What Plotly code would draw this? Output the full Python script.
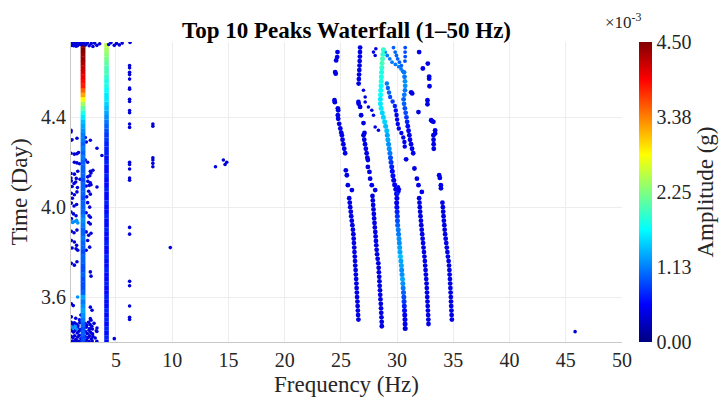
import plotly.graph_objects as go

# ---------------------------------------------------------------------------
# Peak-tracking data: frequency (Hz), time (day), amplitude (x1e-3 g)
# ---------------------------------------------------------------------------

# Sampling days of the two persistent low-frequency peaks
line_days = [3.40, 3.42, 3.44, 3.46, 3.48, 3.50, 3.52, 3.54, 3.56, 3.58,
             3.60, 3.62, 3.64, 3.66, 3.68, 3.70, 3.72, 3.74, 3.76, 3.78,
             3.80, 3.82, 3.84, 3.86, 3.88, 3.90, 3.92, 3.94, 3.96, 3.98,
             4.00, 4.02, 4.04, 4.06, 4.08, 4.10, 4.12, 4.14, 4.16, 4.18,
             4.20, 4.22, 4.24, 4.26, 4.28, 4.30, 4.32, 4.34, 4.36, 4.38,
             4.40, 4.42, 4.44, 4.46, 4.48, 4.50, 4.52, 4.54, 4.56, 4.58,
             4.60, 4.62, 4.64, 4.66, 4.68, 4.70, 4.72]

# ~2 Hz peak
mode1_freq = 2.07
mode1_amp = [0.9, 0.9, 1.0, 0.9, 1.0, 1.1, 1.2, 1.3, 1.2, 1.1,
             1.3, 1.0, 0.9, 0.9, 0.9, 1.0, 0.9, 0.9, 1.0, 1.0,
             0.9, 1.0, 1.0, 1.1, 1.0, 1.0, 1.1, 1.2, 1.1, 1.0,
             1.0, 1.0, 0.9, 1.0, 1.0, 1.0, 0.9, 1.0, 1.0, 1.0,
             1.0, 1.1, 1.0, 1.1, 1.0, 1.1, 1.1, 1.2, 1.3, 1.4,
             1.6, 1.8, 2.1, 2.4, 2.8, 3.2, 3.5, 3.8, 3.9, 4.0,
             4.1, 4.2, 4.3, 4.4, 4.4, 4.5, 4.5]

# ~4 Hz peak
mode2_freq = 4.16
mode2_amp = [0.6, 0.7, 0.6, 0.7, 0.6, 0.7, 0.6, 0.7, 0.6, 0.6,
             0.7, 0.6, 0.6, 0.7, 0.6, 0.6, 0.7, 0.6, 0.6, 0.7,
             0.6, 0.6, 0.7, 0.6, 0.6, 0.7, 0.6, 0.6, 0.7, 0.6,
             0.6, 0.7, 0.6, 0.6, 0.7, 0.6, 0.6, 0.7, 0.6, 0.6,
             0.7, 0.6, 0.7, 0.7, 0.7, 0.8, 0.8, 0.9, 1.0, 1.1,
             1.2, 1.3, 1.4, 1.5, 1.6, 1.6, 1.7, 1.8, 1.8, 1.9,
             2.0, 2.0, 2.1, 2.2, 2.3, 2.4, 2.5]

# Drifting peak near 25-26.5 Hz
track_a_day = [4.690, 4.668, 4.653, 4.601, 4.594, 4.476, 4.467, 4.440, 4.431,
               4.409, 4.393, 4.371, 4.350, 4.332, 4.320, 4.300, 4.280, 4.260,
               4.240, 4.164, 4.142, 4.098, 4.076,
               4.04, 4.02, 4.00, 3.98, 3.96, 3.94, 3.92, 3.90, 3.88, 3.86,
               3.84, 3.82, 3.80, 3.78, 3.76, 3.74, 3.72, 3.70, 3.68, 3.66,
               3.64, 3.62, 3.60, 3.58, 3.56, 3.54, 3.52, 3.50]
track_a_freq = [24.70, 24.67, 24.58, 24.49, 24.54, 24.43, 24.46, 24.73, 24.76,
                24.73, 24.76, 24.85, 24.95, 25.03, 25.09, 25.15, 25.22, 25.30,
                25.38, 25.44, 25.53, 25.62, 25.98,
                25.74, 25.79, 25.83, 25.88, 25.92, 25.97, 26.02, 26.07, 26.11, 26.14,
                26.16, 26.19, 26.21, 26.24, 26.26, 26.28, 26.31, 26.33, 26.36, 26.38,
                26.40, 26.42, 26.44, 26.47, 26.49, 26.51, 26.53, 26.56]
track_a_amp = 0.45

# Drifting peak near 26.7-28.6 Hz
track_b_day = [4.71, 4.69, 4.67, 4.65, 4.63, 4.61, 4.59, 4.57, 4.55,
               4.468, 4.460, 4.446, 4.409, 4.374, 4.330,
               4.32, 4.30, 4.28, 4.26, 4.24, 4.22, 4.21,
               4.179, 4.157, 4.127, 4.098, 4.076,
               4.05, 4.03, 4.01, 3.99, 3.97, 3.95, 3.93, 3.91, 3.89, 3.87,
               3.85, 3.83, 3.81, 3.79, 3.77, 3.75, 3.73, 3.71, 3.69, 3.67,
               3.65, 3.63, 3.61, 3.59, 3.57, 3.55, 3.53, 3.51, 3.49, 3.47]
track_b_freq = [26.71, 26.70, 26.69, 26.67, 26.66, 26.64, 26.62, 26.60, 26.58,
                26.56, 26.58, 26.71, 26.80, 27.01, 27.10,
                27.01, 27.08, 27.15, 27.22, 27.29, 27.35, 27.40,
                27.40, 27.54, 27.60, 27.75, 28.05,
                27.81, 27.84, 27.87, 27.90, 27.93, 27.96, 27.99, 28.02, 28.06, 28.09,
                28.12, 28.15, 28.18, 28.22, 28.27, 28.33, 28.36, 28.38, 28.41, 28.43,
                28.45, 28.48, 28.50, 28.52, 28.55, 28.57, 28.59, 28.61, 28.63, 28.64]
track_b_amp = 0.45

# Stray detections around the 27-28 Hz peak
stray_b_freq = [27.01, 27.16, 27.16, 27.45, 27.75, 27.90, 28.05, 28.34, 27.90, 28.11, 28.05]
stray_b_day = [4.520, 4.490, 4.468, 4.446, 4.431, 4.409, 4.357, 4.342, 4.690, 4.705, 4.675]

# Strongest drifting peak near 28.8-30.7 Hz
track_c_day = [4.70, 4.68, 4.66, 4.64, 4.62, 4.60, 4.58, 4.56, 4.54, 4.52,
               4.50, 4.48, 4.46, 4.44, 4.42, 4.40, 4.38, 4.36, 4.34, 4.32,
               4.30, 4.28, 4.26, 4.24, 4.22, 4.20, 4.18, 4.16, 4.14, 4.12,
               4.10, 4.08, 4.06, 4.04, 4.02, 4.00, 3.98, 3.96, 3.94, 3.92,
               3.90, 3.88, 3.86, 3.84, 3.82, 3.80, 3.78, 3.76, 3.74, 3.72,
               3.70, 3.68, 3.66, 3.64, 3.62, 3.60, 3.58, 3.56, 3.54, 3.52,
               3.50, 3.48, 3.46]
track_c_freq = [28.78, 28.74, 28.70, 28.66, 28.64, 28.62, 28.60, 28.59, 28.57, 28.55,
                28.53, 28.51, 28.52, 28.58, 28.68, 28.78, 28.89, 28.98, 29.08, 29.13,
                29.18, 29.24, 29.30, 29.36, 29.41, 29.46, 29.52, 29.57, 29.63, 29.70,
                29.78, 29.88, 29.95, 29.98, 29.96, 29.98, 30.00, 30.02, 30.03, 30.05,
                30.10, 30.13, 30.17, 30.20, 30.23, 30.26, 30.30, 30.34, 30.38, 30.41,
                30.44, 30.48, 30.51, 30.54, 30.57, 30.60, 30.62, 30.64, 30.66, 30.68,
                30.70, 30.71, 30.72]
track_c_amp = [1.9, 1.9, 2.0, 2.0, 1.9, 1.8, 1.8, 1.8, 1.7, 1.7,
               1.7, 1.6, 1.6, 1.6, 1.5, 1.5, 1.5, 1.4, 1.4, 1.3,
               1.3, 1.2, 1.2, 1.1, 0.9, 0.8, 0.7, 0.6, 0.6, 0.5,
               0.5, 0.5, 0.5, 0.5, 0.5, 0.6, 0.7, 0.8, 0.9, 1.0,
               1.1, 1.1, 1.2, 1.2, 1.3, 1.3, 1.4, 1.3, 1.3, 1.2,
               1.2, 1.3, 1.2, 1.1, 1.0, 0.9, 0.8, 0.7, 0.6, 0.5,
               0.5, 0.5, 0.4]
wiggle_c_freq = [30.10, 30.14, 30.05, 30.18]
wiggle_c_day = [4.09, 4.07, 4.06, 4.08]
wiggle_c_amp = [0.6, 0.5, 0.7, 0.5]

# Branches splitting off the 29 Hz peak near the top of the record
branch1_day = [4.69, 4.675, 4.66, 4.645, 4.635, 4.625, 4.615, 4.605]
branch1_freq = [28.94, 29.12, 29.35, 29.55, 29.85, 30.15, 30.35, 30.50]
branch1_amp = 1.1
branch2_day = [4.71, 4.69, 4.675, 4.66, 4.645, 4.63]
branch2_freq = [29.68, 29.83, 29.94, 30.05, 30.21, 30.38]
branch2_amp = 1.0
branch3_day = [4.71, 4.69, 4.67, 4.65]
branch3_freq = [30.72, 30.71, 30.72, 30.70]
branch3_amp = 0.9
branch4_day = [4.55, 4.53, 4.51, 4.49, 4.47, 4.45, 4.43, 4.41, 4.39, 4.37,
               4.35, 4.33, 4.31, 4.29, 4.27]
branch4_freq = [29.09, 29.18, 29.28, 29.38, 29.60, 29.80, 29.88, 29.95, 30.00, 30.06,
                30.15, 30.38, 30.55, 30.65, 30.68]
branch4_amp = [1.1, 1.0, 1.0, 0.9, 0.8, 0.7, 0.6, 0.5, 0.5, 0.5,
               0.5, 0.5, 0.5, 0.5, 0.5]

# Drifting peak near 30.6-32.8 Hz
track_d_day = [4.60, 4.58, 4.56, 4.54, 4.52, 4.50, 4.48, 4.46, 4.44, 4.42,
               4.40, 4.38, 4.36, 4.34, 4.32, 4.30, 4.28, 4.26, 4.24,
               4.213, 4.172, 4.127, 4.098, 4.068,
               4.04, 4.02, 4.00, 3.98, 3.96, 3.94, 3.92, 3.90, 3.88, 3.86,
               3.84, 3.82, 3.80, 3.78, 3.76, 3.74, 3.72, 3.70, 3.68, 3.66,
               3.64, 3.62, 3.60, 3.58, 3.56, 3.54, 3.52, 3.50, 3.48]
track_d_freq = [30.62, 30.66, 30.70, 30.72, 30.70, 30.64, 30.58, 30.62, 30.69, 30.76,
                30.83, 30.89, 30.95, 31.02, 31.09, 31.15, 31.24, 31.33, 31.43,
                30.80, 31.54, 31.76, 31.90, 32.20,
                31.96, 31.99, 32.02, 32.05, 32.08, 32.12, 32.15, 32.19, 32.23, 32.27,
                32.31, 32.35, 32.39, 32.43, 32.47, 32.50, 32.53, 32.56, 32.59, 32.62,
                32.64, 32.66, 32.68, 32.70, 32.72, 32.74, 32.76, 32.78, 32.79]
track_d_amp = [1.1, 1.1, 1.2, 1.2, 1.1, 1.1, 1.0, 1.0, 0.9, 0.9,
               0.8, 0.7, 0.6, 0.5, 0.5, 0.5, 0.5, 0.5, 0.5,
               0.45, 0.45, 0.45, 0.45, 0.45,
               0.45, 0.45, 0.45, 0.45, 0.45, 0.45, 0.45, 0.45, 0.45, 0.45,
               0.45, 0.45, 0.45, 0.45, 0.45, 0.45, 0.45, 0.45, 0.45, 0.45,
               0.45, 0.45, 0.45, 0.45, 0.45, 0.45, 0.45, 0.45, 0.45]

# Drifting peak near 32-34.9 Hz
track_e_day = [4.690, 4.639, 4.617, 4.581, 4.572, 4.538, 4.511, 4.506, 4.476, 4.458,
               4.423, 4.387, 4.380, 4.383, 4.342, 4.328,
               4.32, 4.30, 4.28, 4.26,
               4.142, 4.130, 4.098, 4.084,
               4.02, 4.00, 3.98, 3.96, 3.94, 3.92, 3.90, 3.88, 3.86, 3.84,
               3.82, 3.80, 3.78, 3.76, 3.74, 3.72, 3.70, 3.68, 3.66, 3.64,
               3.62, 3.60, 3.58, 3.56, 3.54, 3.52, 3.50]
track_e_freq = [31.96, 32.73, 32.29, 32.85, 32.85, 32.88, 31.25, 31.34, 32.70, 32.70,
                31.90, 33.03, 33.23, 33.10, 33.38, 33.38,
                33.23, 33.24, 33.25, 33.26,
                33.74, 33.80, 33.89, 33.90,
                34.03, 34.07, 34.10, 34.13, 34.16, 34.20, 34.23, 34.27, 34.32, 34.37,
                34.42, 34.47, 34.52, 34.58, 34.62, 34.65, 34.67, 34.70, 34.72, 34.74,
                34.76, 34.78, 34.79, 34.81, 34.83, 34.85, 34.87]
track_e_amp = 0.45

# Scattered low-band detections (1-4 Hz)
low_freq = [1.00, 1.00, 1.00, 1.09, 1.53, 2.27, 2.36, 2.72, 3.31,
            1.00, 1.30, 1.53, 1.67,
            1.30, 1.53, 1.76, 2.27, 2.48,
            2.72, 2.78, 1.00, 1.30, 1.60, 2.95,
            1.00, 1.47, 1.80, 2.48, 2.67, 3.75,
            1.03, 1.27, 1.42, 1.10, 1.57, 2.50, 2.72, 2.62, 2.35, 2.78, 3.31,
            1.03, 1.30, 1.53, 1.12, 2.57, 2.72, 2.40,
            1.03, 1.27, 1.50, 2.48, 2.66,
            1.00, 1.22, 1.45, 1.05, 2.35, 2.60, 2.72,
            2.57, 2.72,
            1.03, 1.27, 1.53, 2.35, 2.57, 2.78,
            1.03, 1.30, 1.10, 1.50, 2.48, 2.66, 2.35, 1.45, 1.60,
            1.03, 1.30, 1.53, 2.72, 2.78,
            1.03, 1.20, 2.72, 2.87,
            1.03, 1.42, 1.88, 1.75, 2.72, 2.78, 3.31, 3.25,
            1.02, 1.15, 1.30, 1.48, 1.62, 1.78, 2.25, 2.40, 2.55, 2.70, 2.85, 3.05,
            1.05, 1.22, 1.38, 1.55, 1.70, 1.85, 2.28, 2.45, 2.60, 2.75, 2.92, 3.30,
            1.02, 1.18, 1.32, 1.45, 1.60, 1.75, 1.88, 2.25, 2.38, 2.52, 2.65, 2.80, 2.95, 3.15,
            1.08, 1.25, 1.40, 1.65, 1.80, 2.30, 2.60, 2.88, 3.30,
            1.10, 1.60, 2.35, 2.65, 2.90]
low_day = [4.342, 4.335, 4.298, 4.300, 4.307, 4.310, 4.290, 4.298, 4.262,
           4.240, 4.236, 4.238, 4.243,
           4.200, 4.197, 4.193, 4.210, 4.200,
           4.160, 4.152, 4.150, 4.147, 4.160, 4.164,
           4.130, 4.128, 4.124, 4.135, 4.140, 4.230,
           4.117, 4.105, 4.112, 4.092, 4.087, 4.115, 4.108, 4.097, 4.094, 4.100, 4.090,
           4.062, 4.055, 4.068, 4.040, 4.071, 4.058, 4.046,
           4.018, 4.005, 4.012, 4.020, 4.000,
           3.978, 3.970, 3.962, 3.948, 3.975, 3.962, 3.955,
           3.932, 3.925,
           3.893, 3.886, 3.898, 3.890, 3.875, 3.884,
           3.852, 3.845, 3.818, 3.830, 3.852, 3.822, 3.808, 3.815, 3.808,
           3.750, 3.742, 3.757, 3.712, 3.693,
           3.570, 3.562, 3.555, 3.541,
           3.512, 3.506, 3.520, 3.499, 3.504, 3.497, 3.462, 3.450,
           3.488, 3.478, 3.485, 3.480, 3.472, 3.486, 3.482, 3.474, 3.488, 3.478, 3.470, 3.483,
           3.450, 3.444, 3.452, 3.440, 3.448, 3.455, 3.446, 3.438, 3.452, 3.442, 3.436, 3.447,
           3.425, 3.418, 3.428, 3.412, 3.422, 3.430, 3.415, 3.425, 3.410, 3.420, 3.428, 3.414, 3.424, 3.418,
           3.403, 3.402, 3.405, 3.403, 3.402, 3.404, 3.402, 3.405, 3.403,
           3.465, 3.462, 3.466, 3.460, 3.458]
low_amp = 0.4

# Brighter low-band detections
bright_freq = [1.00, 1.15, 1.33, 1.50, 1.60, 1.59, 1.05, 1.20, 1.38, 1.50]
bright_day = [3.938, 3.932, 3.936, 3.942, 3.930, 3.600, 3.468, 3.462, 3.470, 3.458]
bright_amp = 1.2

# Isolated detections at higher frequencies
iso_freq = [6.21, 6.21, 6.21, 6.21, 6.21, 6.21, 6.21, 6.21, 6.21, 6.21, 6.21, 6.21, 6.21,
            6.21, 6.21, 6.21, 6.21, 6.21, 6.21, 6.21, 6.21, 6.21, 6.21, 6.21, 6.21,
            8.28, 8.28, 8.28, 8.28, 8.28, 8.28,
            9.83, 13.85, 14.55, 14.70, 14.85, 45.83, 4.85]
iso_day = [4.63, 4.62, 4.60, 4.59, 4.57, 4.53, 4.525, 4.48, 4.47, 4.43, 4.42, 4.37, 4.355,
           4.20, 4.19, 4.17, 4.13, 4.12, 3.91, 3.88, 3.67, 3.65, 3.56, 3.51, 3.50,
           4.37, 4.36, 4.22, 4.21, 4.195, 4.18,
           3.82, 4.180, 4.210, 4.190, 4.200, 3.446, 3.415]
iso_amp = 0.4

# Detections along the final record (top edge)
top_freq = [1.02, 1.10, 1.18, 1.25, 1.32, 1.40, 1.48, 1.55, 1.62, 1.70, 1.78, 1.85,
            1.05, 1.22, 1.45, 1.60, 1.92, 2.00, 2.15, 2.30, 2.45, 2.62, 2.80, 2.95,
            3.10, 3.30, 3.55, 4.35, 4.55, 4.85, 5.05, 5.30, 5.55, 6.25]
top_day = [4.732, 4.728, 4.733, 4.725, 4.731, 4.727, 4.733, 4.722, 4.730, 4.726, 4.733, 4.724,
           4.720, 4.718, 4.716, 4.719, 4.731, 4.727, 4.733, 4.722, 4.730, 4.718, 4.728, 4.715,
           4.730, 4.720, 4.727, 4.724, 4.732, 4.720, 4.728, 4.722, 4.730, 4.733]
top_amp = 0.4

x_ticks = [5, 10, 15, 20, 25, 30, 35, 40, 45, 50]
y_ticks = [3.6, 4.0, 4.4]
cbar_ticks = [0.0, 1.125, 2.25, 3.375, 4.5]
cbar_labels = ["0.00", "1.13", "2.25", "3.38", "4.50"]

# MATLAB-style jet colormap
jet = [[0.0, "#000080"], [0.125, "#0000ff"], [0.375, "#00ffff"],
       [0.625, "#ffff00"], [0.875, "#ff0000"], [1.0, "#800000"]]

SERIF = "Liberation Serif"
TEXT = "#262626"

fig = go.Figure()


def add_points(freq, day, amp, size, symbol="circle"):
    if not isinstance(freq, list):
        freq = [freq] * len(day)
    if not isinstance(amp, list):
        amp = [amp] * len(day)
    fig.add_trace(go.Scatter(
        x=freq, y=day, mode="markers",
        marker=dict(size=size, color=amp, symbol=symbol,
                    coloraxis="coloraxis", line=dict(width=0)),
        showlegend=False, hoverinfo="skip"))


add_points(low_freq, low_day, low_amp, 3.6)
add_points(bright_freq, bright_day, bright_amp, 3.6)
add_points(iso_freq, iso_day, iso_amp, 3.6)
add_points(track_a_freq, track_a_day, track_a_amp, 4.8)
add_points(track_b_freq, track_b_day, track_b_amp, 4.8)
add_points(stray_b_freq, stray_b_day, 0.45, 3.6)
add_points(track_e_freq, track_e_day, track_e_amp, 4.8)
add_points(track_d_freq, track_d_day, track_d_amp, 4.8)
add_points(branch1_freq, branch1_day, branch1_amp, 3.8)
add_points(branch2_freq, branch2_day, branch2_amp, 3.8)
add_points(branch3_freq, branch3_day, branch3_amp, 3.8)
add_points(branch4_freq, branch4_day, branch4_amp, 4.4)
add_points(track_c_freq, track_c_day, track_c_amp, 5)
add_points(wiggle_c_freq, wiggle_c_day, wiggle_c_amp, 4)
add_points(mode2_freq, line_days, mode2_amp, 4.6, "square")
add_points(mode1_freq, line_days, mode1_amp, 4.8, "square")
add_points(top_freq, top_day, top_amp, 3.6)

fig.update_layout(
    width=721, height=397,
    margin=dict(l=71, r=99, t=42, b=55, autoexpand=False),
    paper_bgcolor="white", plot_bgcolor="white",
    font=dict(family=SERIF, size=20, color=TEXT),
    title=dict(text="<b>Top 10 Peaks Waterfall (1–50 Hz)</b>",
               x=0.5, xref="paper", xanchor="center",
               y=0.925, yref="container", yanchor="middle",
               font=dict(family=SERIF, size=23, color="black")),
    xaxis=dict(range=[1, 50], tickvals=x_ticks, showgrid=True, gridcolor="#ededed",
               gridwidth=1, zeroline=False, showline=True, linecolor="#c8c8c8",
               linewidth=1, ticks="", automargin=False,
               tickfont=dict(family=SERIF, size=20, color=TEXT),
               title=dict(text="Frequency (Hz)",
                          font=dict(family=SERIF, size=23, color=TEXT),
                          standoff=9)),
    yaxis=dict(range=[3.40, 4.735], tickvals=y_ticks, tickformat=".1f",
               showgrid=True, gridcolor="#ededed", gridwidth=1, zeroline=False,
               showline=True, linecolor="#c8c8c8", linewidth=1, ticks="",
               automargin=False,
               tickfont=dict(family=SERIF, size=20, color=TEXT),
               title=dict(text="Time (Day)",
                          font=dict(family=SERIF, size=23, color=TEXT),
                          standoff=6)),
    coloraxis=dict(
        cmin=0, cmax=4.5, colorscale=jet,
        colorbar=dict(
            x=1.031, xanchor="left", xpad=0, y=0.5, yanchor="middle", ypad=0,
            len=1, lenmode="fraction", thickness=13, outlinewidth=0,
            tickvals=cbar_ticks, ticktext=cbar_labels, ticks="",
            tickfont=dict(family=SERIF, size=20, color=TEXT),
            title=dict(text="Amplitude (g)", side="right",
                       font=dict(family=SERIF, size=23, color=TEXT)))),
    annotations=[dict(text="×10<sup>-3</sup>", x=0.965, xref="paper", xanchor="left",
                      y=1.07, yref="paper", yanchor="middle", showarrow=False,
                      font=dict(family=SERIF, size=17, color=TEXT))],
)

fig.write_html("out.html")
